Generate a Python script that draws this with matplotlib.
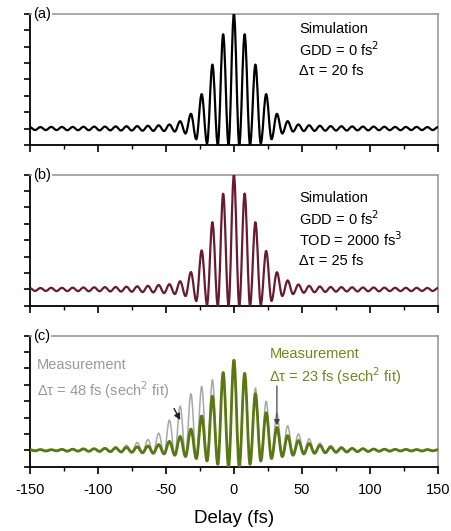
import matplotlib
matplotlib.use("Agg")
import matplotlib.pyplot as plt
from matplotlib.path import Path
from matplotlib.patches import PathPatch
from matplotlib.ticker import MultipleLocator, NullFormatter

plt.rcParams['font.family'] = ['Liberation Sans', 'DejaVu Sans']
plt.rcParams['axes.unicode_minus'] = False

# fringe extrema: even index = fringe maximum, odd index = minimum
half_period_fs = 3.95
fringe_index = list(range(-38, 39))
delay = [j * half_period_fs for j in fringe_index]

# (a) simulation, GDD = 0, 20 fs
sim_a = [1.09, 0.91, 1.09, 0.91, 1.1, 0.91, 1.1, 0.9, 1.1, 0.9, 1.11, 0.9, 1.12, 0.89,
         1.12, 0.89, 1.13, 0.88, 1.14, 0.88, 1.15, 0.87, 1.17, 0.86, 1.2, 0.85, 1.25, 0.82,
         1.45, 0.7, 1.9, 0.35, 3.1, 0.1, 4.9, 0.0, 6.75, 0.0,
         8.0,
         0.0, 6.75, 0.0, 4.9, 0.1, 3.1, 0.35, 1.9, 0.7, 1.45, 0.82, 1.25, 0.85, 1.2,
         0.86, 1.17, 0.87, 1.15, 0.88, 1.14, 0.88, 1.13, 0.89, 1.12, 0.89, 1.12, 0.9, 1.11,
         0.9, 1.1, 0.9, 1.1, 0.91, 1.1, 0.91, 1.09, 0.91, 1.09]

# (b) simulation, GDD = 0, TOD = 2000 fs^3, 25 fs
sim_b = [1.09, 0.91, 1.09, 0.91, 1.1, 0.9, 1.1, 0.9, 1.11, 0.9, 1.12, 0.89, 1.13, 0.89,
         1.14, 0.88, 1.15, 0.87, 1.17, 0.86, 1.19, 0.84, 1.22, 0.82, 1.27, 0.78, 1.32, 0.72,
         1.5, 0.6, 2.06, 0.29, 3.38, 0.07, 5.1, 0.0, 6.84, 0.0,
         8.0,
         0.0, 6.85, 0.0, 5.1, 0.08, 3.35, 0.3, 2.05, 0.6, 1.55, 0.72, 1.3, 0.8, 1.22,
         0.83, 1.18, 0.85, 1.15, 0.87, 1.14, 0.88, 1.13, 0.88, 1.12, 0.89, 1.12, 0.89, 1.11,
         0.9, 1.1, 0.9, 1.1, 0.9, 1.1, 0.91, 1.09, 0.91, 1.09]

# (c) measurement, 48 fs (grey)
meas_48 = [1.03, 1.0, 1.04, 0.99, 1.03, 1.0, 1.05, 0.98, 1.06, 0.99, 1.08, 0.97, 1.1, 0.96,
           1.14, 0.95, 1.22, 0.93, 1.32, 0.9, 1.48, 0.88, 1.66, 0.85, 2.05, 0.8, 2.85, 0.75,
           3.7, 0.68, 4.45, 0.6, 4.9, 0.5, 5.3, 0.4, 5.6, 0.3,
           6.2,
           0.3, 5.6, 0.42, 4.8, 0.55, 4.0, 0.65, 3.25, 0.75, 2.5, 0.82, 2.0, 0.88, 1.7,
           0.9, 1.45, 0.93, 1.3, 0.95, 1.22, 0.97, 1.15, 0.97, 1.12, 0.98, 1.1, 0.99, 1.07,
           1.0, 1.06, 0.99, 1.05, 1.0, 1.04, 0.99, 1.04, 1.0, 1.03]

# (c) measurement, 23 fs (green)
meas_23 = [1.04, 0.97, 1.05, 0.96, 1.04, 0.97, 1.06, 0.95, 1.07, 0.95, 1.09, 0.94, 1.1, 0.93,
           1.12, 0.92, 1.15, 0.9, 1.18, 0.88, 1.22, 0.85, 1.27, 0.82, 1.35, 0.78, 1.55, 0.7,
           1.85, 0.62, 2.3, 0.5, 3.1, 0.35, 4.3, 0.15, 5.75, 0.0,
           6.5,
           0.0, 5.7, 0.15, 4.45, 0.35, 3.3, 0.5, 2.4, 0.62, 1.9, 0.7, 1.6, 0.78, 1.42,
           0.82, 1.3, 0.85, 1.2, 0.88, 1.15, 0.9, 1.12, 0.92, 1.1, 0.93, 1.08, 0.94, 1.07,
           0.95, 1.06, 0.96, 1.06, 0.96, 1.05, 0.96, 1.05, 0.97, 1.04]


def fringe_curve(ax, xs, ys, **kw):
    # smooth trace through the fringe extrema (flat tangent at every max/min)
    verts = [(xs[0], ys[0])]
    codes = [Path.MOVETO]
    for i in range(1, len(xs)):
        h = xs[i] - xs[i - 1]
        verts += [(xs[i - 1] + 0.36 * h, ys[i - 1]), (xs[i] - 0.36 * h, ys[i]), (xs[i], ys[i])]
        codes += [Path.CURVE4] * 3
    ax.add_patch(PathPatch(Path(verts, codes), fill=False, capstyle='round',
                           joinstyle='round', **kw))


fig = plt.figure(figsize=(4.52, 5.31), dpi=100)
left, width, height = 0.066, 0.903, 0.247
ax_a = fig.add_axes([left, 0.727, width, height])
ax_b = fig.add_axes([left, 0.424, width, height])
ax_c = fig.add_axes([left, 0.121, width, height])

fringe_curve(ax_a, delay, sim_a, edgecolor='black', lw=1.6, zorder=3)
fringe_curve(ax_b, delay, sim_b, edgecolor='#6a1a2e', lw=1.6, zorder=3)
fringe_curve(ax_c, delay, meas_48, edgecolor='#a8a8a8', lw=1.1, zorder=2)
fringe_curve(ax_c, delay, meas_23, edgecolor='#5a7812', lw=2.0, zorder=3)

for ax, tag in zip([ax_a, ax_b, ax_c], ['(a)', '(b)', '(c)']):
    ax.set_xlim(-150, 150)
    ax.set_ylim(0, 8)
    ax.xaxis.set_major_locator(MultipleLocator(50))
    ax.xaxis.set_minor_locator(MultipleLocator(25))
    ax.yaxis.set_major_locator(MultipleLocator(1))
    ax.yaxis.set_major_formatter(NullFormatter())
    ax.tick_params(axis='y', which='major', direction='out', length=4, width=1.2)
    ax.tick_params(axis='x', which='major', direction='out', length=5, width=1.2)
    ax.tick_params(axis='x', which='minor', direction='out', length=3, width=1.0)
    for s in ['left', 'bottom']:
        ax.spines[s].set_linewidth(1.3)
        ax.spines[s].set_color('black')
    for s in ['top', 'right']:
        ax.spines[s].set_linewidth(1.2)
        ax.spines[s].set_color('#9a9a9a')
    ax.text(0.008, 1.0, tag, transform=ax.transAxes, ha='left', va='center',
            fontsize=10.5, bbox=dict(facecolor='white', edgecolor='none', pad=0.5), zorder=5)

for ax in [ax_a, ax_b]:
    ax.xaxis.set_major_formatter(NullFormatter())

ax_c.tick_params(axis='x', labelsize=10.5, pad=7)
ax_c.set_xlabel('Delay (fs)', fontsize=13.5, labelpad=9)

txt = dict(ha='left', va='center', fontsize=10.5)
ax_a.text(48, 7.08, 'Simulation', **txt)
ax_a.text(48, 5.8, 'GDD = 0 fs$^{2}$', **txt)
ax_a.text(48, 4.52, '\u0394\u03c4 = 20 fs', **txt)

ax_b.text(48, 6.6, 'Simulation', **txt)
ax_b.text(48, 5.31, 'GDD = 0 fs$^{2}$', **txt)
ax_b.text(48, 4.03, 'TOD = 2000 fs$^{3}$', **txt)
ax_b.text(48, 2.75, '\u0394\u03c4 = 25 fs', **txt)

ax_c.text(-145, 6.2, 'Measurement', color='#9a9a9a', **txt)
ax_c.text(-145, 4.7, '\u0394\u03c4 = 48 fs (sech$^{2}$ fit)', color='#9a9a9a', **txt)
ax_c.text(26, 6.9, 'Measurement', color='#6b8a1e', **txt)
ax_c.text(26, 5.5, '\u0394\u03c4 = 23 fs (sech$^{2}$ fit)', color='#6b8a1e', **txt)

ax_c.annotate('', xy=(-38.5, 2.7), xytext=(-45, 3.7),
              arrowprops=dict(arrowstyle='-|>', color='#222222', lw=1.0, mutation_scale=9),
              zorder=6)
ax_c.annotate('', xy=(31.6, 2.35), xytext=(31.6, 5.1),
              arrowprops=dict(arrowstyle='-|>', color='#444444', lw=0.9, mutation_scale=8),
              zorder=6)

fig.savefig('out.png', dpi=100, facecolor='white')
